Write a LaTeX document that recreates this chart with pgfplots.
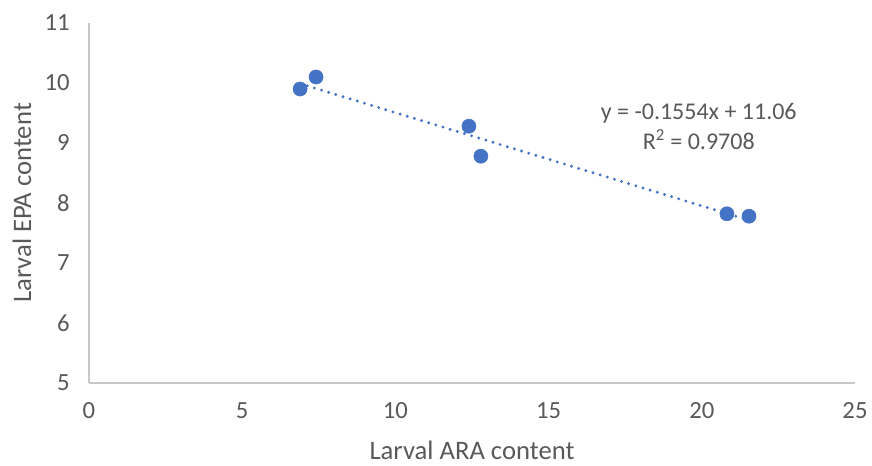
\documentclass[border=0pt]{standalone}
\usepackage{pgfplots}
\pgfplotsset{compat=1.18}
\usepackage{fontspec}
\setmainfont{Carlito}
\definecolor{excelblue}{HTML}{4472C4}
\definecolor{txtgray}{HTML}{595959}
\definecolor{axgray}{HTML}{C8C8C8}
\begin{document}
\begin{tikzpicture}
\useasboundingbox (-66.75pt,-62.25pt) rectangle (587.25pt,287.25pt);
\begin{axis}[
    at={(0,0)}, anchor=south west,
    scale only axis,
    width=574.5pt, height=270pt,
    xmin=0, xmax=25, ymin=5, ymax=11,
    xtick={0,5,...,25}, ytick={5,6,...,11},
    axis lines=left,
    axis line style={-, axgray, line width=1pt},
    major tick length=0pt,
    /pgf/number format/assume math mode=true,
    tick label style={font=\fontsize{18.5}{22}\selectfont, text=txtgray},
    xticklabel style={yshift=-11pt},
    yticklabel style={xshift=-11pt},
    label style={font=\fontsize{20}{24}\selectfont, text=txtgray, inner sep=1pt},
    xlabel={Larval ARA content},
    ylabel={Larval EPA content},
    xlabel style={at={(axis description cs:0.5,-0.188)}, anchor=center},
    ylabel style={at={(axis description cs:-0.0875,0.5)}, anchor=center},
    clip=false,
]
% linear trendline (dotted)
\addplot[excelblue, line width=2.4pt, line cap=round, dash pattern=on 0pt off 5.6pt] coordinates {
    (6.89, 9.989) (21.54, 7.713)
};
\addplot[only marks, mark=*, mark size=5.3pt, mark options={fill=excelblue, draw=excelblue}] coordinates {
    (6.89, 9.90)
    (7.41, 10.10)
    (12.40, 9.28)
    (12.79, 8.78)
    (20.82, 7.82)
    (21.54, 7.78)
};
\node[align=center, text=txtgray, font=\fontsize{18}{22.5}\selectfont] at (axis cs:19.9,9.28) {y = -0.1554x + 11.06\\R\textsuperscript{2} = 0.9708};
\end{axis}
\end{tikzpicture}
\end{document}
